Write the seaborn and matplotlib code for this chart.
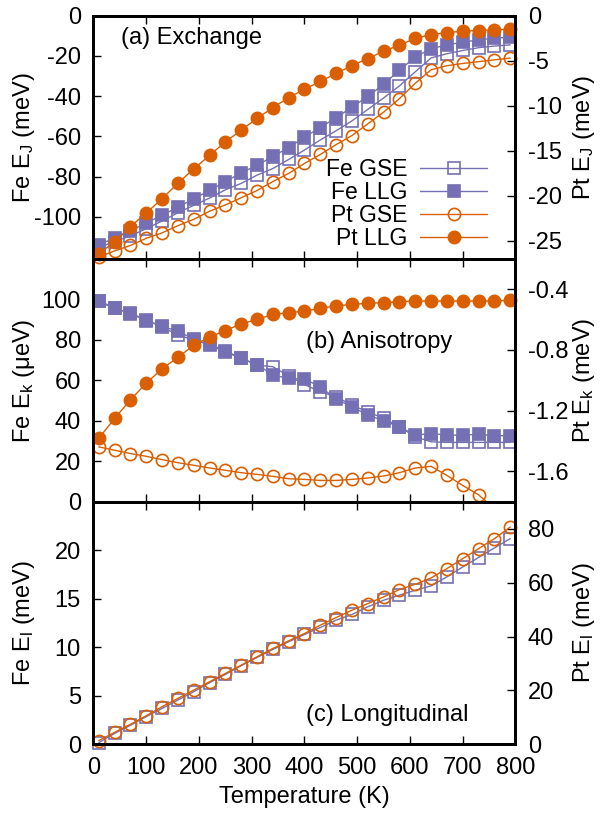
import matplotlib
matplotlib.use("Agg")
import matplotlib.pyplot as plt
import seaborn as sns

# temperatures (K) of the simulation points
temperature = [10, 40, 70, 100, 130, 160, 190, 220, 250, 280, 310, 340, 370, 400,
               430, 460, 490, 520, 550, 580, 610, 640, 670, 700, 730, 760, 790]

# (a) exchange, Fe in meV (left), Pt in meV (right)
fe_gse_J = [-115.2, -112.4, -109.5, -105.9, -102.1, -98.0, -94.3, -90.7, -86.6, -83.4,
            -79.3, -76.0, -71.5, -66.8, -61.8, -57.2, -52.3, -46.6, -40.9, -34.9,
            -27.9, -21.0, -18.9, -17.3, -15.9, -15.1, -14.5]
fe_llg_J = [-113.9, -110.6, -107.0, -103.1, -99.2, -95.3, -91.0, -86.9, -82.5, -78.1,
            -74.4, -70.0, -65.6, -60.4, -55.6, -50.7, -45.5, -40.1, -34.1, -27.1,
            -20.5, -16.4, -14.5, -13.2, -12.0, -11.2, -10.7]
pt_gse_J = [-26.8, -26.1, -25.5, -24.7, -24.1, -23.3, -22.6, -21.7, -21.0, -20.2,
            -19.4, -18.4, -17.5, -16.4, -15.4, -14.3, -13.3, -12.0, -10.7, -9.2,
            -7.5, -6.0, -5.55, -5.3, -5.1, -4.9, -4.7]
pt_llg_J = [-26.4, -25.1, -23.4, -21.9, -20.3, -18.6, -17.0, -15.5, -14.0, -12.7,
            -11.4, -10.2, -9.1, -8.15, -7.3, -6.4, -5.55, -4.75, -3.95, -3.26,
            -2.52, -2.1, -1.87, -1.72, -1.65, -1.57, -1.5]

# (b) anisotropy, Fe in ueV (left), Pt in meV (right)
fe_gse_k = [99.0, 95.5, 93.2, 89.8, 86.5, 82.3, 80.0, 77.8, 74.5, 71.0,
            67.5, 66.7, 62.2, 57.9, 54.3, 51.9, 47.7, 44.4, 41.2, 37.0,
            32.1, 29.6, 29.3, 29.3, 29.3, 29.3, 29.3]
fe_llg_k = [99.3, 95.8, 93.0, 89.5, 86.7, 84.3, 80.3, 77.4, 74.1, 70.8,
            67.8, 62.6, 60.9, 60.6, 56.8, 50.7, 46.9, 42.8, 40.0, 37.0,
            32.9, 33.7, 32.9, 32.9, 33.3, 32.6, 32.6]
pt_gse_k = [-1.439, -1.461, -1.483, -1.501, -1.523, -1.543, -1.560, -1.578, -1.593, -1.609,
            -1.620, -1.633, -1.649, -1.653, -1.660, -1.660, -1.653, -1.644, -1.631, -1.609,
            -1.578, -1.567, -1.627, -1.693, -1.755, -1.845, -1.93]
pt_llg_k = [-1.383, -1.251, -1.129, -1.019, -0.924, -0.849, -0.769, -0.716, -0.672, -0.628,
            -0.599, -0.566, -0.555, -0.544, -0.526, -0.510, -0.499, -0.493, -0.488, -0.482,
            -0.477, -0.477, -0.477, -0.477, -0.477, -0.477, -0.473]

# (c) longitudinal, Fe in meV (left), Pt in meV (right)
fe_gse_l = [0.17, 1.13, 1.96, 2.85, 3.70, 4.56, 5.42, 6.35, 7.20, 8.10,
            8.95, 9.78, 10.57, 11.32, 12.04, 12.80, 13.38, 14.17, 14.85, 15.37,
            15.88, 16.33, 17.26, 18.28, 19.25, 20.24, 21.20]
pt_gse_l = [1.36, 4.44, 7.41, 10.62, 13.95, 17.04, 20.12, 23.21, 26.30, 29.38,
            32.47, 35.56, 38.40, 41.11, 44.20, 47.04, 49.75, 52.22, 54.69, 57.41,
            59.38, 61.73, 65.19, 68.89, 72.59, 76.30, 80.62]

PURPLE = "#7570b3"
ORANGE = "#d95f02"

sns.set_style("ticks")
plt.rcParams["font.family"] = ["Liberation Sans", "DejaVu Sans"]
plt.rcParams["font.size"] = 17
plt.rcParams["axes.unicode_minus"] = False
plt.rcParams["mathtext.default"] = "regular"
for key in ("text.color", "axes.labelcolor", "xtick.color", "ytick.color"):
    plt.rcParams[key] = "black"


def draw(ax, y, color, marker, filled, label, clip=False):
    ms = 8.3 if marker == "s" else 8.8
    sns.lineplot(x=temperature, y=y, ax=ax, color=color, linewidth=1.0,
                 marker=marker, markersize=ms,
                 markerfacecolor=color if filled else "none",
                 markeredgecolor=color, markeredgewidth=1.2,
                 label=label, legend=False, errorbar=None, sort=False,
                 clip_on=clip)


def style(ax, ax2, ylim, ylim2, yt, yt2, ylab, ylab2, last=False):
    ax.set_xlim(0, 800)
    ax.set_xticks(range(0, 801, 100))
    ax.set_ylim(*ylim)
    ax.set_yticks(yt)
    ax2.set_ylim(*ylim2)
    ax2.set_yticks(yt2)
    ax.tick_params(axis="x", direction="in", top=True, length=6, width=1,
                   pad=9, labelbottom=last)
    ax.tick_params(axis="y", direction="in", length=6, width=1, pad=9)
    ax2.tick_params(axis="y", direction="in", length=6, width=1, pad=9)
    for a in (ax, ax2):
        for s in a.spines.values():
            s.set_visible(True)
            s.set_linewidth(2.0)
            s.set_color("black")
    ax.set_ylabel(ylab)
    ax2.set_ylabel(ylab2)
    ax.yaxis.set_label_coords(-0.134, 0.5)
    ax2.yaxis.set_label_coords(1.131, 0.5)
    ax.set_xlabel("")


fig = plt.figure(figsize=(6.02, 8.14), dpi=100)
L, W = 0.1553, 0.701
axa = fig.add_axes([L, 0.6818, W, 0.2989])
axb = fig.add_axes([L, 0.3837, W, 0.2982])
axc = fig.add_axes([L, 0.0856, W, 0.2980])
axa2 = axa.twinx()
axb2 = axb.twinx()
axc2 = axc.twinx()

# (a) exchange
draw(axa, fe_gse_J, PURPLE, "s", False, "Fe GSE")
draw(axa, fe_llg_J, PURPLE, "s", True, "Fe LLG")
draw(axa2, pt_gse_J, ORANGE, "o", False, "Pt GSE")
draw(axa2, pt_llg_J, ORANGE, "o", True, "Pt LLG")
style(axa, axa2, (-121, 0), (-27, 0), range(-100, 1, 20), range(-25, 1, 5),
      r"Fe E$_J$ (meV)", r"Pt E$_J$ (meV)")
axa.text(0.065, 0.908, "(a) Exchange", transform=axa.transAxes, va="center", ha="left")
h1, l1 = axa.get_legend_handles_labels()
h2, l2 = axa2.get_legend_handles_labels()
axa2.legend(h1 + h2, l1 + l2, loc="lower right", bbox_to_anchor=(0.932, 0.035),
            frameon=False, markerfirst=False, numpoints=1, handlelength=2.9,
            handletextpad=0.55, labelspacing=0.0, borderpad=0, borderaxespad=0,
            fontsize=16.5)

# (b) anisotropy
draw(axb, fe_gse_k, PURPLE, "s", False, "Fe GSE")
draw(axb, fe_llg_k, PURPLE, "s", True, "Fe LLG")
draw(axb2, pt_gse_k, ORANGE, "o", False, "Pt GSE", clip=True)
draw(axb2, pt_llg_k, ORANGE, "o", True, "Pt LLG")
style(axb, axb2, (0, 120), (-1.8, -0.2), range(0, 101, 20), [-1.6, -1.2, -0.8, -0.4],
      "Fe E$_k$ (\u03bceV)", r"Pt E$_k$ (meV)")
axb.text(0.5036, 0.659, "(b) Anisotropy", transform=axb.transAxes, va="center", ha="left")

# (c) longitudinal
draw(axc, fe_gse_l, PURPLE, "s", False, "Fe GSE")
draw(axc2, pt_gse_l, ORANGE, "o", False, "Pt GSE")
style(axc, axc2, (0, 25), (0, 90), range(0, 21, 5), range(0, 81, 20),
      r"Fe E$_l$ (meV)", r"Pt E$_l$ (meV)", last=True)
axc.text(0.5036, 0.121, "(c) Longitudinal", transform=axc.transAxes, va="center", ha="left")
axc.set_xlabel("Temperature (K)")
axc.xaxis.set_label_coords(0.5, -0.172)

fig.savefig("out.png", dpi=100)
